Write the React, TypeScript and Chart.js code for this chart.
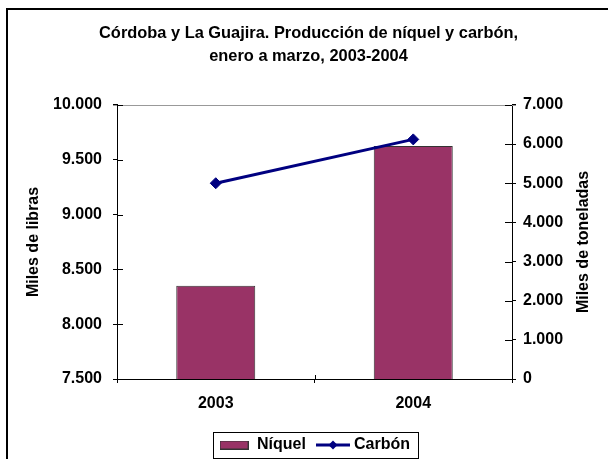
import React, { useEffect, useRef } from 'react';
import { Chart, registerables } from 'chart.js';

Chart.register(...registerables);

// ---- data ----
const TITLE_LINES = ['Córdoba y La Guajira. Producción de níquel y carbón,', 'enero a marzo, 2003-2004'];
const CATEGORIES = ['2003', '2004'];
const NIQUEL = [8350, 9625];
const CARBON = [5000, 6120];
const SERIES_NAMES = ['Níquel', 'Carbón'];
const LEFT_AXIS_TITLE = 'Miles de libras';
const RIGHT_AXIS_TITLE = 'Miles de toneladas';
const LEFT_MIN = 7500;
const LEFT_MAX = 10000;
const LEFT_STEP = 500;
const RIGHT_MIN = 0;
const RIGHT_MAX = 7000;
const RIGHT_STEP = 1000;

// ---- styles ----
const FONT_FAMILY = '"Liberation Sans", Arial, Helvetica, sans-serif';
const BAR_COLOR = '#993366';
const BAR_BORDER = '#333333';
const LINE_COLOR = '#000080';
const FONT = { family: FONT_FAMILY, size: 16, weight: 'bold' as const };

const fmt = (v: number | string) => String(v).replace(/\B(?=(\d{3})+(?!\d))/g, '.');

function makeBarSwatch() {
  const c = document.createElement('canvas');
  c.width = 29;
  c.height = 9;
  const g = c.getContext('2d')!;
  g.fillStyle = BAR_COLOR;
  g.fillRect(0, 0, 29, 9);
  g.strokeStyle = BAR_BORDER;
  g.lineWidth = 1;
  g.strokeRect(0.5, 0.5, 28, 8);
  return c;
}

function makeLineSwatch() {
  const c = document.createElement('canvas');
  c.width = 40;
  c.height = 12;
  const g = c.getContext('2d')!;
  g.strokeStyle = LINE_COLOR;
  g.lineWidth = 3;
  g.beginPath();
  g.moveTo(5, 6);
  g.lineTo(39, 6);
  g.stroke();
  g.fillStyle = LINE_COLOR;
  g.beginPath();
  g.moveTo(22, 1.5);
  g.lineTo(26.5, 6);
  g.lineTo(22, 10.5);
  g.lineTo(17.5, 6);
  g.closePath();
  g.fill();
  return c;
}

const decorPlugin = {
  id: 'decor',
  beforeDatasetsDraw(chart: any) {
    const { ctx, chartArea: a } = chart;
    ctx.save();
    ctx.strokeStyle = '#999999';
    ctx.lineWidth = 1;
    const ty = Math.round(a.top) + 0.5;
    ctx.beginPath();
    ctx.moveTo(a.left - 4, ty);
    ctx.lineTo(a.right + 4, ty);
    ctx.stroke();
    ctx.restore();
  },
  afterDraw(chart: any) {
    const { ctx, chartArea: a } = chart;
    const y = chart.scales.y;
    const y1 = chart.scales.y1;
    const x = chart.scales.x;
    ctx.save();
    ctx.strokeStyle = '#000';
    ctx.lineWidth = 1;
    ctx.beginPath();
    y.ticks.forEach((_t: any, i: number) => {
      const py = Math.round(y.getPixelForTick(i)) + 0.5;
      ctx.moveTo(a.left, py);
      ctx.lineTo(a.left + 6, py);
    });
    y1.ticks.forEach((_t: any, i: number) => {
      const py = Math.round(y1.getPixelForTick(i)) + 0.5;
      ctx.moveTo(a.right - 7, py);
      ctx.lineTo(a.right, py);
    });
    for (let k = 0; k <= CATEGORIES.length; k++) {
      const px = Math.round(x.getPixelForValue(k - 0.5)) + 0.5;
      ctx.moveTo(px, a.bottom - 4);
      ctx.lineTo(px, a.bottom);
    }
    ctx.stroke();

    // right axis title (reads bottom-to-top)
    ctx.fillStyle = '#000';
    ctx.font = `bold 16px ${FONT_FAMILY}`;
    ctx.textAlign = 'center';
    ctx.textBaseline = 'middle';
    ctx.translate(y1.right - 4 - 9.6, (a.top + a.bottom) / 2);
    ctx.rotate(-Math.PI / 2);
    ctx.fillText(RIGHT_AXIS_TITLE, 0, 0);
    ctx.restore();

    // legend border
    const hb = chart.legend && chart.legend.legendHitBoxes;
    if (hb && hb.length) {
      const last = hb[hb.length - 1];
      const l = Math.round(hb[0].left - 6) + 0.5;
      const r = Math.round(last.left + last.width + 8) + 0.5;
      const t = Math.round(hb[0].top - 5) + 0.5;
      const b = Math.round(hb[0].top + hb[0].height + 5) + 0.5;
      ctx.save();
      ctx.strokeStyle = '#000';
      ctx.lineWidth = 1;
      ctx.strokeRect(l, t, r - l, b - t);
      ctx.restore();
    }
  },
};

export default function App() {
  const ref = useRef<HTMLCanvasElement>(null);

  useEffect(() => {
    const swatches = [makeBarSwatch(), makeLineSwatch()];
    const chart = new Chart(ref.current as HTMLCanvasElement, {
      type: 'bar',
      data: {
        labels: CATEGORIES,
        datasets: [
          {
            type: 'bar',
            label: SERIES_NAMES[0],
            data: NIQUEL,
            yAxisID: 'y',
            backgroundColor: BAR_COLOR,
            borderColor: BAR_BORDER,
            borderWidth: 1,
            barPercentage: 0.4,
            categoryPercentage: 1,
            order: 1,
          },
          {
            type: 'line',
            label: SERIES_NAMES[1],
            data: CARBON,
            yAxisID: 'y1',
            borderColor: LINE_COLOR,
            backgroundColor: LINE_COLOR,
            borderWidth: 3,
            pointStyle: 'rectRot',
            pointRadius: 5.5,
            pointBorderWidth: 1,
            pointBackgroundColor: LINE_COLOR,
            pointBorderColor: LINE_COLOR,
            tension: 0,
            order: 0,
          },
        ],
      } as any,
      options: {
        responsive: false,
        animation: false,
        layout: { padding: { left: 20, right: 11, top: 0, bottom: 0 } },
        plugins: {
          title: {
            display: true,
            text: TITLE_LINES,
            color: '#000',
            font: { ...FONT, size: 16.4, lineHeight: 1.385 },
            padding: { top: 22, bottom: 37.5 },
          },
          legend: {
            position: 'bottom',
            fullSize: false,
            labels: {
              usePointStyle: true,
              pointStyleWidth: 30,
              padding: 10,
              color: '#000',
              font: FONT,
              generateLabels: () =>
                SERIES_NAMES.map((name, i) => ({
                  text: name,
                  pointStyle: swatches[i],
                  fillStyle: 'rgba(0,0,0,0)',
                  strokeStyle: 'rgba(0,0,0,0)',
                  lineWidth: 0,
                  hidden: false,
                  datasetIndex: i,
                  fontColor: '#000',
                })) as any,
            },
          },
          tooltip: { enabled: false },
        },
        scales: {
          x: {
            type: 'category',
            offset: true,
            grid: { display: true, drawOnChartArea: false, drawTicks: true, tickLength: 4, color: '#000', offset: true },
            border: { display: true, color: '#000', width: 1 },
            ticks: { color: '#000', font: FONT, padding: 11 },
            afterFit: (s: any) => {
              s.height = 48;
            },
          },
          y: {
            type: 'linear',
            position: 'left',
            min: LEFT_MIN,
            max: LEFT_MAX,
            ticks: { stepSize: LEFT_STEP, callback: (v: any) => fmt(v), padding: 11, color: '#000', font: FONT },
            grid: { drawOnChartArea: false, drawTicks: true, tickLength: 4, color: '#000' },
            border: { display: true, color: '#000', width: 1 },
            title: { display: true, text: LEFT_AXIS_TITLE, color: '#000', font: FONT, padding: { top: 4, bottom: 10 } },
            afterFit: (s: any) => {
              s.width = 97;
            },
          },
          y1: {
            type: 'linear',
            position: 'right',
            min: RIGHT_MIN,
            max: RIGHT_MAX,
            ticks: { stepSize: RIGHT_STEP, callback: (v: any) => fmt(v), padding: 7, color: '#000', font: FONT },
            grid: { drawOnChartArea: false, drawTicks: true, tickLength: 4, color: '#000' },
            border: { display: true, color: '#000', width: 1 },
            afterFit: (s: any) => {
              s.width = 85;
            },
          },
        },
      } as any,
      plugins: [decorPlugin],
    });
    return () => chart.destroy();
  }, []);

  return (
    <div style={{ position: 'fixed', left: 0, top: 0, width: 608, height: 459, overflow: 'hidden', background: '#fff' }}>
      <div
        style={{
          position: 'absolute',
          left: 6,
          top: 8,
          width: 700,
          height: 600,
          borderLeft: '2px solid #000',
          borderTop: '2px solid #000',
        }}
      />
      <canvas ref={ref} width={608} height={463} style={{ position: 'absolute', left: 0, top: 0, width: 608, height: 463 }} />
    </div>
  );
}
